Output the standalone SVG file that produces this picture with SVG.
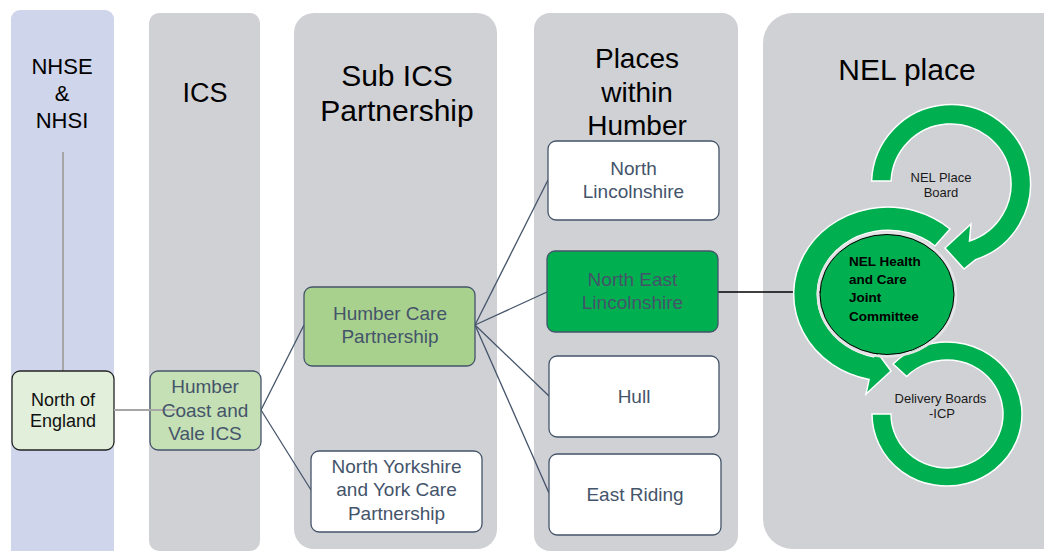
<svg xmlns="http://www.w3.org/2000/svg" width="1044" height="551" viewBox="0 0 1044 551">
  <style>
    .txt { font-family: "Liberation Sans", Arial, sans-serif; text-anchor: middle; }
    .hdr { fill: #000; }
    .col-blue { fill: #cfd5ea; }
    .col-grey { fill: #d0d1d5; }
    .box { stroke: #44546a; stroke-width: 1.3; }
    .lbl { fill: #44546a; font-size: 19px; }
    .link { stroke: #44546a; stroke-width: 1.3; fill: none; }
    .feed { stroke: #a6a6a6; stroke-width: 2; fill: none; }
    .ring { fill: #00b050; stroke: #ffffff; stroke-width: 1.5; stroke-linejoin: miter; }
    .small { fill: #1a1a1a; font-size: 13px; }
  </style>

  <!-- column bands -->
  <g id="columns">
    <rect class="col-blue" x="11" y="10" width="103" height="560" rx="9"/>
    <rect class="col-grey" x="149" y="13" width="111" height="538" rx="10"/>
    <rect class="col-grey" x="294" y="13" width="203" height="536" rx="20"/>
    <rect class="col-grey" x="534" y="13" width="204" height="538" rx="16"/>
    <rect class="col-grey" x="763" y="13" width="320" height="536" rx="30"/>
  </g>

  <!-- column headings -->
  <g id="headings" class="txt hdr">
    <text x="62" y="74" font-size="22">NHSE</text>
    <text x="62" y="101" font-size="22">&amp;</text>
    <text x="62" y="128" font-size="22">NHSI</text>
    <text x="205" y="102" font-size="27">ICS</text>
    <text x="397" y="86" font-size="30">Sub ICS</text>
    <text x="397" y="121" font-size="30">Partnership</text>
    <text x="637" y="68" font-size="28">Places</text>
    <text x="637" y="102" font-size="28">within</text>
    <text x="637" y="135" font-size="28">Humber</text>
    <text x="907" y="80" font-size="30">NEL place</text>
  </g>

  <!-- connectors -->
  <g id="connectors">
    <line class="feed" x1="63" y1="152" x2="63" y2="371"/>
    <line class="link" x1="261" y1="410" x2="304" y2="325"/>
    <line class="link" x1="261" y1="410" x2="311" y2="490"/>
    <line class="link" x1="475" y1="325" x2="548" y2="180"/>
    <line class="link" x1="475" y1="325" x2="547" y2="292"/>
    <line class="link" x1="475" y1="325" x2="549" y2="396"/>
    <line class="link" x1="475" y1="325" x2="549" y2="493"/>
    <line x1="718" y1="292" x2="822" y2="292" stroke="#000" stroke-width="1.5"/>
  </g>

  <g id="north-of-england" class="txt">
    <rect x="12" y="371" width="102" height="79" rx="8" fill="#e2efda" stroke="#222" stroke-width="1.3"/>
    <text x="63" y="406" font-size="18" fill="#111">North of</text>
    <text x="63" y="427" font-size="18" fill="#111">England</text>
  </g>

  <g id="humber-coast-vale-ics" class="txt">
    <rect class="box" x="150" y="371" width="111" height="79" rx="8" fill="#c5e0b4"/>
    <line class="feed" x1="114" y1="410" x2="178" y2="410"/>
    <text class="lbl" x="205" y="393" font-size="18.5">Humber</text>
    <text class="lbl" x="205" y="417" font-size="18.5">Coast and</text>
    <text class="lbl" x="205" y="440" font-size="18.5">Vale ICS</text>
  </g>

  <g id="humber-care-partnership" class="txt">
    <rect class="box" x="304" y="287" width="171" height="79" rx="8" fill="#a9d18e"/>
    <text class="lbl" x="390" y="320">Humber Care</text>
    <text class="lbl" x="390" y="343">Partnership</text>
  </g>

  <g id="north-yorkshire-york" class="txt">
    <rect class="box" x="311" y="451" width="171" height="81" rx="8" fill="#ffffff"/>
    <text class="lbl" x="396.5" y="473">North Yorkshire</text>
    <text class="lbl" x="396.5" y="496">and York Care</text>
    <text class="lbl" x="396.5" y="520">Partnership</text>
  </g>

  <g id="north-lincolnshire" class="txt">
    <rect class="box" x="548" y="141" width="171" height="79" rx="8" fill="#ffffff"/>
    <text class="lbl" x="633.5" y="175">North</text>
    <text class="lbl" x="633.5" y="198">Lincolnshire</text>
  </g>

  <g id="north-east-lincolnshire" class="txt">
    <rect class="box" x="547" y="251" width="171" height="81" rx="8" fill="#00b050"/>
    <text class="lbl" x="632.5" y="286">North East</text>
    <text class="lbl" x="632.5" y="309">Lincolnshire</text>
  </g>

  <g id="hull" class="txt">
    <rect class="box" x="549" y="356" width="170" height="81" rx="8" fill="#ffffff"/>
    <text class="lbl" x="634" y="403">Hull</text>
  </g>

  <g id="east-riding" class="txt">
    <rect class="box" x="549" y="454" width="172" height="81" rx="8" fill="#ffffff"/>
    <text class="lbl" x="635" y="501">East Riding</text>
  </g>

  <!-- NEL place cycle: three curved arrows round the joint committee -->
  <g id="delivery-boards" class="txt">
    <path class="ring" d="M 872,414 A 75 72 0 1 0 893.1,364 L 906.7,376.5 A 56 54 0 1 1 891,414 Z"/>
    <text class="small" x="940.5" y="403" font-size="13.5">Delivery Boards</text>
    <text class="small" x="942" y="418" font-size="13.5">-ICP</text>
  </g>

  <g id="nel-place-board" class="txt">
    <path class="ring" d="M 871.6,181 A 79.5 79.5 0 1 1 975.6,259.6 L 964,269 L 945,248 L 971,224 L 969.5,241 A 60 60 0 1 0 891.1,181 Z"/>
    <text class="small" x="941" y="182">NEL Place</text>
    <text class="small" x="941" y="197">Board</text>
  </g>

  <g id="nel-health-care-joint-committee">
    <path class="ring" d="M 950,229 A 94 87 0 1 0 869.1,379.4 L 866,394 L 891,371 L 877,352 L 873.5,356.8 A 71 64 0 1 1 935,246 Z"/>
    <ellipse cx="887" cy="294.5" rx="69" ry="62" fill="none" stroke="#e4e4e6" stroke-width="2.5"/>
    <ellipse cx="887" cy="294.5" rx="67" ry="60" fill="#00b050" stroke="#000" stroke-width="1"/>
    <g font-family="Liberation Sans, Arial, sans-serif" font-weight="bold" font-size="13.5" fill="#000">
      <text x="849" y="266">NEL Health</text>
      <text x="849" y="284">and Care</text>
      <text x="849" y="302">Joint</text>
      <text x="849" y="321">Committee</text>
    </g>
  </g>
</svg>
